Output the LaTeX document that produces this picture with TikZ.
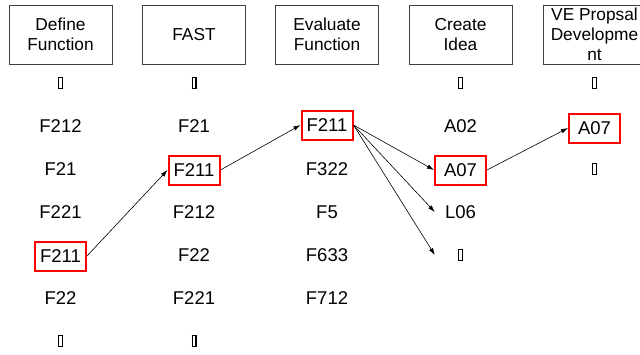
\documentclass[tikz,border=0pt]{standalone}
\usepackage{fontspec}
\setmainfont{Liberation Sans}
\usetikzlibrary{arrows.meta}
\newcommand\tofubox{{\setlength\fboxsep{0pt}\setlength\fboxrule{1.3pt}\fbox{\rule{2.4pt}{0pt}\rule{0pt}{9.6pt}}}}
\begin{document}
\begin{tikzpicture}[x=1pt,y=-1pt,
  every node/.style={font=\fontsize{18.5}{20}\selectfont},
  head/.style={draw=black!75, line width=0.9pt, minimum width=103pt, minimum height=59pt, align=center, inner sep=0pt, font=\fontsize{17.3}{20}\selectfont},
  item/.style={minimum width=51pt, minimum height=29pt, inner sep=0pt},
  sel/.style={item, draw=red, line width=2pt},
  link/.style={-{Latex[length=7pt,width=4.5pt]}, line width=0.6pt}]
\useasboundingbox (0,0) rectangle (640,354);
% headers
\node[head] (h1) at (60.5,34.5) {Define\\Function};
\node[head] (h2) at (194,34.5) {FAST};
\node[head] (h3) at (327,34.5) {Evaluate\\Function};
\node[head] (h4) at (460.5,34.5) {Create\\Idea};
\node[head] (h5) at (594.5,34.5) {VE Propsal\\Developme\\nt};
% column 1
\node[item] (a0) at (60.5,83) {\tofubox};
\node[item] (a1) at (60.5,126) {F212};
\node[item] (a2) at (60.5,169) {F21};
\node[item] (a3) at (60.5,212) {F221};
\node[sel]  (a4) at (60.5,256) {F211};
\node[item] (a5) at (60.5,298) {F22};
\node[item] (a6) at (60.5,341) {\tofubox};
% column 2
\node[item] (b0) at (194,83) {\tofubox};
\node[item] (b1) at (194,126) {F21};
\node[sel]  (b2) at (194,170) {F211};
\node[item] (b3) at (194,212) {F212};
\node[item] (b4) at (194,255) {F22};
\node[item] (b5) at (194,298) {F221};
\node[item] (b6) at (194,341) {\tofubox};
% column 3
\node[sel]  (c1) at (327,125) {F211};
\node[item] (c2) at (327,169) {F322};
\node[item] (c3) at (327,212) {F5};
\node[item] (c4) at (327,255) {F633};
\node[item] (c5) at (327,298) {F712};
% column 4
\node[item] (d0) at (460.5,83) {\tofubox};
\node[item] (d1) at (460.5,126) {A02};
\node[sel]  (d2) at (460.5,170) {A07};
\node[item] (d3) at (460.5,212) {L06};
\node[item] (d4) at (460.5,255) {\tofubox};
% column 5
\node[item] (e0) at (594.5,83) {\tofubox};
\node[sel]  (e1) at (594.5,128) {A07};
\node[item] (e2) at (594.5,169) {\tofubox};
% connectors
\draw[link] (a4.east) -- (b2.west);
\draw[link] (b2.east) -- (c1.west);
\draw[link] (c1.east) -- (d2.west);
\draw[link] (c1.east) -- (d3.west);
\draw[link] (c1.east) -- (d4.west);
\draw[link] (d2.east) -- (e1.west);
\end{tikzpicture}
\end{document}
